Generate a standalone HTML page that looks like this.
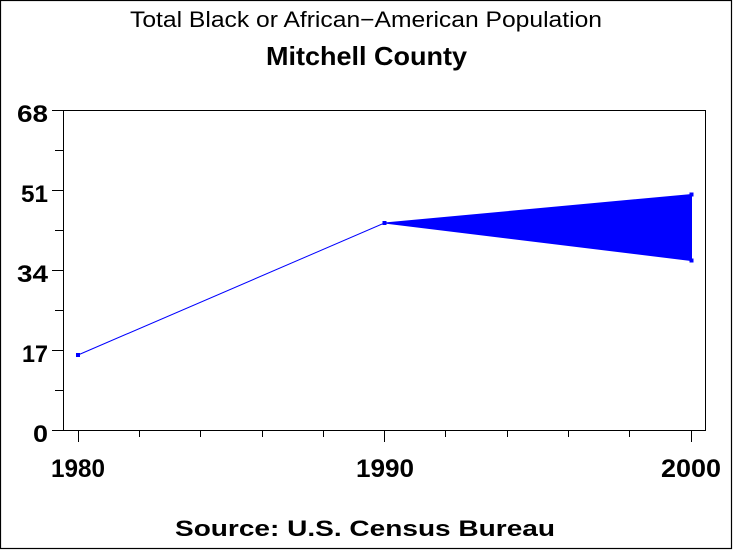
<!DOCTYPE html>
<html>
<head>
<meta charset="utf-8">
<style>
html,body{margin:0;padding:0;background:#fff;}
svg{display:block;}
text{font-family:"Liberation Sans",Arial,sans-serif;fill:#000;}
</style>
</head>
<body>
<svg width="733" height="550" viewBox="0 0 733 550" xmlns="http://www.w3.org/2000/svg">
<rect x="0" y="0" width="733" height="550" fill="#fff"/>
<!-- outer border -->
<rect x="0.5" y="0.5" width="731" height="548" fill="none" stroke="#000" stroke-width="1.2"/>

<!-- titles -->
<text x="130" y="27" font-size="22" textLength="472" lengthAdjust="spacingAndGlyphs">Total Black or African−American Population</text>
<text x="266" y="65" font-size="26" font-weight="bold" textLength="201" lengthAdjust="spacingAndGlyphs">Mitchell County</text>
<text x="175" y="536" font-size="22" font-weight="bold" textLength="380" lengthAdjust="spacingAndGlyphs">Source: U.S. Census Bureau</text>

<!-- plot frame -->
<rect x="63.5" y="110.5" width="642" height="320" fill="none" stroke="#000" stroke-width="1"/>

<!-- y ticks -->
<g stroke="#000" stroke-width="1">
<line x1="52" y1="110.5" x2="63.5" y2="110.5"/>
<line x1="52" y1="190.5" x2="63.5" y2="190.5"/>
<line x1="52" y1="270.5" x2="63.5" y2="270.5"/>
<line x1="52" y1="350.5" x2="63.5" y2="350.5"/>
<line x1="52" y1="430.5" x2="63.5" y2="430.5"/>
<line x1="55" y1="150.5" x2="63.5" y2="150.5"/>
<line x1="55" y1="230.5" x2="63.5" y2="230.5"/>
<line x1="55" y1="310.5" x2="63.5" y2="310.5"/>
<line x1="55" y1="390.5" x2="63.5" y2="390.5"/>
</g>
<!-- y labels -->
<g font-size="24" font-weight="bold" text-anchor="end">
<text x="48" y="122" textLength="31" lengthAdjust="spacingAndGlyphs">68</text>
<text x="48" y="202" textLength="27" lengthAdjust="spacingAndGlyphs">51</text>
<text x="48" y="282" textLength="31" lengthAdjust="spacingAndGlyphs">34</text>
<text x="48" y="362" textLength="26" lengthAdjust="spacingAndGlyphs">17</text>
<text x="48" y="442" textLength="15" lengthAdjust="spacingAndGlyphs">0</text>
</g>

<!-- x ticks -->
<g stroke="#000" stroke-width="1">
<line x1="78.5" y1="430" x2="78.5" y2="442"/>
<line x1="384.5" y1="430" x2="384.5" y2="442"/>
<line x1="691.5" y1="430" x2="691.5" y2="442"/>
<line x1="139.5" y1="430" x2="139.5" y2="437"/>
<line x1="200.5" y1="430" x2="200.5" y2="437"/>
<line x1="262.5" y1="430" x2="262.5" y2="437"/>
<line x1="323.5" y1="430" x2="323.5" y2="437"/>
<line x1="445.5" y1="430" x2="445.5" y2="437"/>
<line x1="507.5" y1="430" x2="507.5" y2="437"/>
<line x1="568.5" y1="430" x2="568.5" y2="437"/>
<line x1="629.5" y1="430" x2="629.5" y2="437"/>
</g>
<!-- x labels -->
<g font-size="25" font-weight="bold">
<text x="51" y="477" textLength="54" lengthAdjust="spacingAndGlyphs">1980</text>
<text x="356" y="477" textLength="58" lengthAdjust="spacingAndGlyphs">1990</text>
<text x="661" y="477" textLength="60" lengthAdjust="spacingAndGlyphs">2000</text>
</g>

<!-- data -->
<line x1="78" y1="355" x2="384.5" y2="223" stroke="#0000ff" stroke-width="1"/>
<polygon points="384.5,223 691.5,194.5 691.5,260.5" fill="#0000ff" stroke="#0000ff" stroke-width="1"/>
<g fill="#0000ff">
<rect x="76" y="353" width="4" height="4"/>
<rect x="382.5" y="221" width="4" height="4"/>
<rect x="689.5" y="192.5" width="4" height="4"/>
<rect x="689.5" y="258.5" width="4" height="4"/>
</g>
</svg>
</body>
</html>
